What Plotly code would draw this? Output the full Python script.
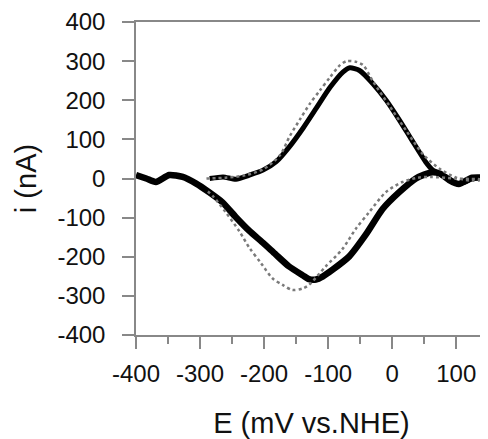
import plotly.graph_objects as go

# Measured CV (solid): forward (oxidative) sweep
ox_E = [-285, -264, -244, -222, -201, -181, -160, -139, -118, -97, -77, -66, -51, -30, -9,
        11, 30, 52, 63, 80, 89, 100, 112, 125, 148]
ox_i = [0, 4, -2, 9, 22, 43, 82, 129, 181, 233, 272, 283, 276, 242, 199,
        150, 100, 43, 22, 8, 0, -13, -10, 0, 3]

# Measured CV (solid): reverse (reductive) sweep
red_E = [148, 125, 104, 89, 75, 63, 50, 37, 11, -15, -41, -67, -93, -108, -119, -130,
         -140, -161, -182, -202, -223, -244, -265, -286, -306, -327, -348, -369, -384, -400]
red_i = [2, 2, -14, -4, 12, 16, 10, 0, -35, -78, -143, -199, -233, -250, -258, -257,
         -247, -225, -194, -164, -134, -99, -61, -35, -13, 4, 9, -9, 0, 9]

# Simulated CV (dotted): forward sweep
sim_ox_E = [-290, -260, -230, -200, -175, -160, -144, -129, -113, -97, -82, -71, -56, -45,
            -30, -4, 22, 48, 74, 100, 125, 148]
sim_ox_i = [0, 2, 8, 25, 60, 108, 151, 190, 225, 259, 289, 300, 298, 289,
            248, 185, 122, 62, 25, 2, -6, -2]

# Simulated CV (dotted): reverse sweep
sim_red_E = [148, 100, 60, 40, 16, -10, -36, -57, -78, -104, -130, -140, -156, -171, -187,
             -205, -223, -239, -260, -280, -290]
sim_red_i = [-2, 0, 4, 2, -9, -35, -86, -129, -181, -225, -272, -281, -285, -272, -255,
             -216, -177, -134, -86, -45, -30]

x_ticks = [-400, -300, -200, -100, 0, 100]
y_ticks = [-400, -300, -200, -100, 0, 100, 200, 300, 400]

fig = go.Figure()
fig.add_trace(go.Scatter(x=ox_E, y=ox_i, mode="lines", line=dict(color="black", width=5, shape="spline", smoothing=0.6), showlegend=False))
fig.add_trace(go.Scatter(x=red_E, y=red_i, mode="lines", line=dict(color="black", width=6.5, shape="spline", smoothing=0.6), showlegend=False))
fig.add_trace(go.Scatter(x=sim_ox_E, y=sim_ox_i, mode="lines", line=dict(color="#7a7a7a", width=2.5, dash="dot", shape="spline", smoothing=0.8), showlegend=False))
fig.add_trace(go.Scatter(x=sim_red_E, y=sim_red_i, mode="lines", line=dict(color="#7a7a7a", width=2.5, dash="dot", shape="spline", smoothing=0.8), showlegend=False))

font_family = "Liberation Sans, Arial, sans-serif"
fig.update_layout(
    width=480, height=431,
    margin=dict(l=128, r=1, t=14, b=104),
    paper_bgcolor="white", plot_bgcolor="white",
    font=dict(family=font_family, color="#111", size=24),
    xaxis=dict(range=[-400, 148], tickvals=x_ticks, ticktext=[str(v) for v in x_ticks],
               ticks="outside", ticklen=12, tickwidth=1.5, tickcolor="#888",
               minor=dict(dtick=50, tick0=0, ticks="outside", ticklen=7, tickwidth=1.5, tickcolor="#888"),
               showline=True, linecolor="#888", linewidth=1.5, mirror=True,
               showgrid=False, zeroline=False, ticklabelstandoff=4, automargin=False,
               tickfont=dict(size=24),
               title=dict(text="E (mV vs.NHE)", font=dict(size=29), standoff=36)),
    yaxis=dict(range=[-400, 400], tickvals=y_ticks, ticktext=[str(v) for v in y_ticks],
               ticks="outside", ticklen=12, tickwidth=1.5, tickcolor="#888",
               showline=True, linecolor="#888", linewidth=1.5, mirror=True,
               showgrid=False, zeroline=False, ticklabelstandoff=12, automargin=False,
               tickfont=dict(size=24),
               title=dict(text="i (nA)", font=dict(size=29), standoff=12)),
)

fig.write_html("out.html")
